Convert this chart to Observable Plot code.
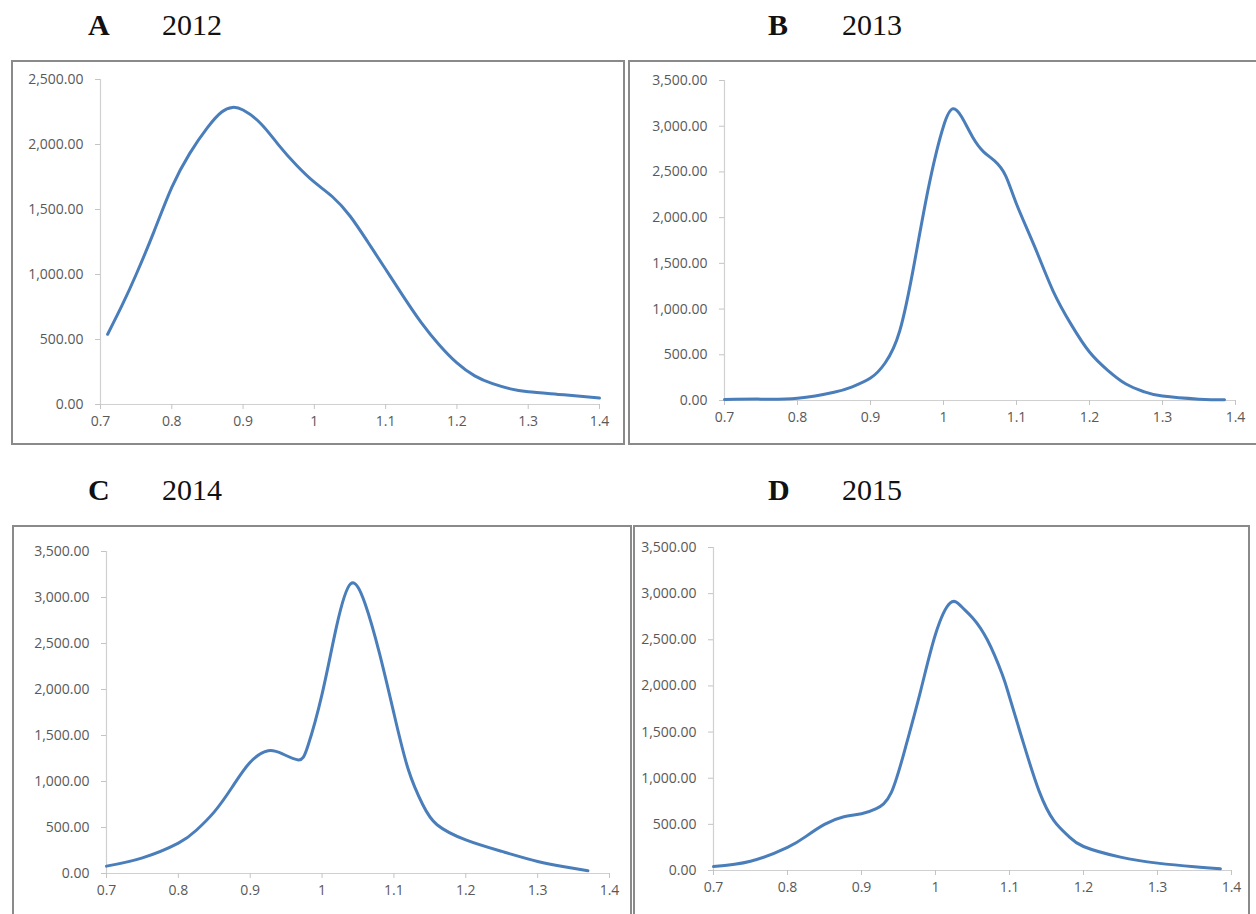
<!DOCTYPE html>
<html>
<head>
<meta charset="utf-8">
<script src="https://cdn.jsdelivr.net/npm/d3@7"></script>
<script src="https://cdn.jsdelivr.net/npm/@observablehq/plot@0.6"></script>
<style>
  html, body { margin: 0; padding: 0; background: #fff; }
  body { width: 1256px; height: 914px; position: relative; overflow: hidden; }
  .title { position: absolute; font-family: "Liberation Serif", "Times New Roman", serif; font-size: 30px; color: #111; line-height: 1; white-space: nowrap; }
  .title b { position: absolute; left: 0; }
  .title span { position: absolute; }
  .panel { position: absolute; overflow: hidden; background: #fff; }
  .panel svg { position: absolute; left: 0; top: 0; }
  .border { position: absolute; inset: 0; border: 2px solid #8a8a8a; box-sizing: border-box; pointer-events: none; }
</style>
</head>
<body>
<script>
// ---- Data ----
const panelLabels = ["A", "B", "C", "D"];
const panelYears = ["2012", "2013", "2014", "2015"];

const xTicks = [0.7, 0.8, 0.9, 1, 1.1, 1.2, 1.3, 1.4];
const yTicksA = [0, 500, 1000, 1500, 2000, 2500];
const yTicksBCD = [0, 500, 1000, 1500, 2000, 2500, 3000, 3500];

const xA = [0.71, 0.73, 0.75, 0.775, 0.8, 0.825, 0.85, 0.87, 0.885, 0.9, 0.925, 0.95, 0.975, 1.0, 1.025, 1.05, 1.075, 1.1, 1.125, 1.15, 1.175, 1.2, 1.225, 1.25, 1.275, 1.3, 1.35, 1.4];
const yA = [540, 760, 1000, 1330, 1670, 1930, 2130, 2250, 2285, 2265, 2160, 1995, 1840, 1710, 1600, 1450, 1250, 1040, 830, 630, 460, 320, 220, 160, 120, 98, 75, 50];

const xB = [0.7, 0.75, 0.8, 0.85, 0.875, 0.9, 0.92, 0.94, 0.96, 0.98, 1.0, 1.013, 1.025, 1.04, 1.055, 1.07, 1.085, 1.1, 1.125, 1.15, 1.175, 1.2, 1.225, 1.25, 1.275, 1.3, 1.35, 1.385];
const yB = [12, 15, 25, 90, 150, 245, 410, 760, 1500, 2350, 3000, 3190, 3100, 2880, 2720, 2620, 2460, 2150, 1680, 1200, 830, 530, 330, 180, 95, 48, 15, 7];

const xC = [0.7, 0.75, 0.8, 0.825, 0.85, 0.875, 0.9, 0.925, 0.945, 0.967, 0.98, 1.0, 1.02, 1.04, 1.06, 1.08, 1.1, 1.12, 1.14, 1.16, 1.2, 1.25, 1.3, 1.335, 1.37];
const yC = [80, 170, 330, 470, 670, 940, 1210, 1335, 1300, 1235, 1380, 1950, 2680, 3150, 2930, 2390, 1740, 1130, 750, 530, 365, 240, 130, 75, 30];

const xD = [0.7, 0.75, 0.8, 0.825, 0.85, 0.875, 0.9, 0.92, 0.94, 0.96, 0.98, 1.0, 1.02, 1.035, 1.05, 1.07, 1.09, 1.1, 1.12, 1.14, 1.16, 1.18, 1.2, 1.25, 1.3, 1.35, 1.385];
const yD = [43, 100, 250, 370, 500, 580, 615, 670, 840, 1350, 1950, 2560, 2900, 2860, 2740, 2500, 2130, 1880, 1350, 860, 540, 370, 260, 145, 80, 40, 18];

// ---- Layout ----
const panels = [
  {x: xA, y: yA, yTicks: yTicksA, yMax: 2500, box: [11, 60, 614, 385], m: [19, 26, 41, 89], title: [88, 10]},
  {x: xB, y: yB, yTicks: yTicksBCD, yMax: 3500, box: [628, 60, 640, 385], m: [20, 33, 45, 96], title: [768, 10]},
  {x: xC, y: yC, yTicks: yTicksBCD, yMax: 3500, box: [12, 525, 620, 400], m: [26, 23, 52, 94], title: [88, 475]},
  {x: xD, y: yD, yTicks: yTicksBCD, yMax: 3500, box: [633, 525, 617, 400], m: [22, 19, 55, 80], title: [768, 475]}
];

const fmtY = d3.format(",.2f");
const fmtX = d => String(+d.toFixed(1));

panels.forEach((p, i) => {
  const t = document.createElement("div");
  t.className = "title";
  t.style.left = p.title[0] + "px";
  t.style.top = p.title[1] + "px";
  t.innerHTML = `<b>${panelLabels[i]}</b><span style="left:74px">${panelYears[i]}</span>`;
  document.body.appendChild(t);

  const [bx, by, bw, bh] = p.box;
  const [mt, mr, mb, ml] = p.m;
  const data = p.x.map((x, j) => ({x, y: p.y[j]}));

  const chart = Plot.plot({
    width: bw,
    height: bh,
    marginTop: mt, marginRight: mr, marginBottom: mb, marginLeft: ml,
    style: {fontFamily: "'Open Sans', sans-serif", fontSize: "14px", background: "#fff", overflow: "visible"},
    x: {domain: [0.7, 1.4], axis: null},
    y: {domain: [0, p.yMax], axis: null},
    marks: [
      Plot.ruleX([0.7], {stroke: "#d0d0d0", strokeWidth: 1.2}),
      Plot.ruleY([0], {stroke: "#d0d0d0", strokeWidth: 1.2}),
      Plot.axisX(xTicks, {tickFormat: fmtX, tickSize: 5, tickPadding: 7, stroke: "#c4c4c4", fill: "#595959", fontSize: 14, label: null}),
      Plot.axisY(p.yTicks, {tickFormat: fmtY, tickSize: 5, tickPadding: 12, stroke: "#c4c4c4", fill: "#595959", fontSize: 14, label: null}),
      Plot.line(data, {x: "x", y: "y", stroke: "#4a7ebb", strokeWidth: 3, curve: "natural"})
    ]
  });

  const wrap = document.createElement("div");
  wrap.className = "panel";
  wrap.style.left = bx + "px";
  wrap.style.top = by + "px";
  wrap.style.width = bw + "px";
  wrap.style.height = bh + "px";
  wrap.appendChild(chart);
  const border = document.createElement("div");
  border.className = "border";
  wrap.appendChild(border);
  document.body.appendChild(wrap);
});
</script>
</body>
</html>
